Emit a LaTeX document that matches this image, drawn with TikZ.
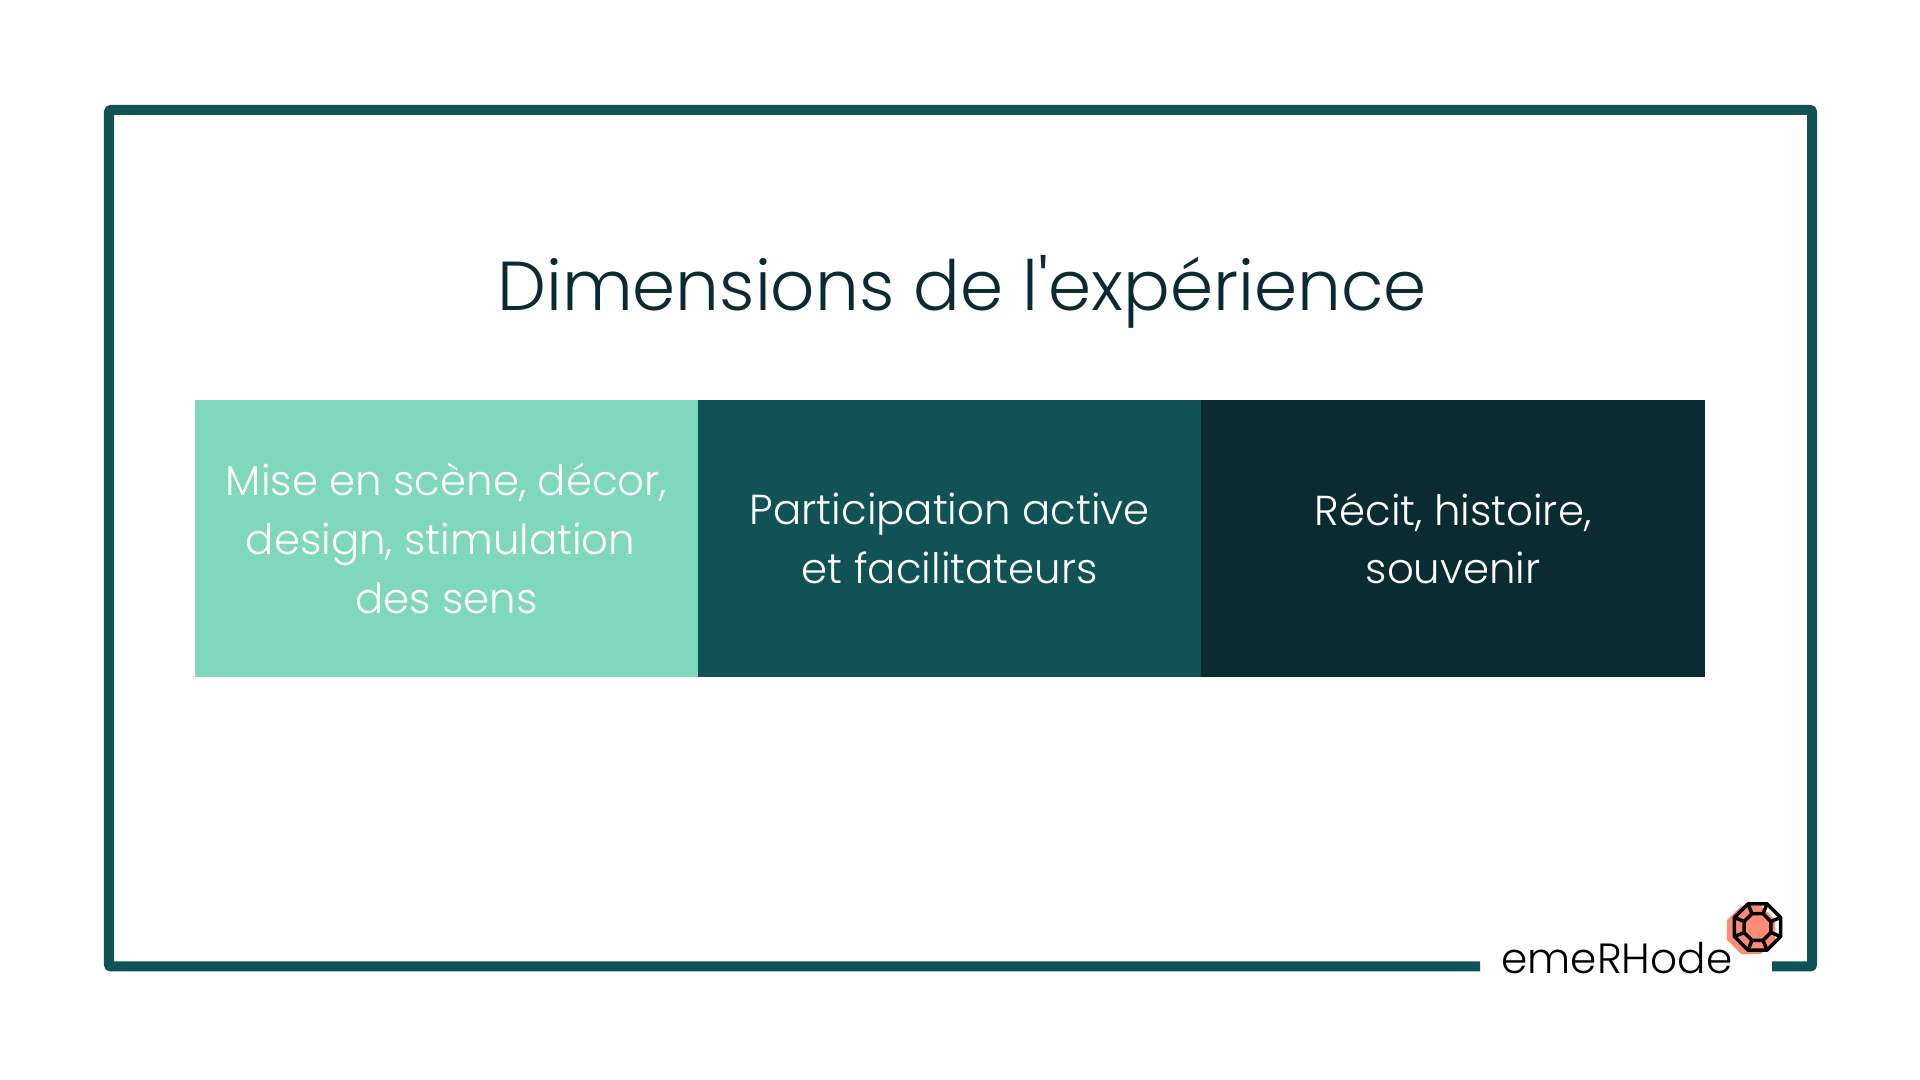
\documentclass[tikz,border=0pt]{standalone}
\usepackage{fontspec}
\setmainfont[Ligatures=TeXOff]{Poppins Light}
\usetikzlibrary{positioning, shapes.geometric}
\definecolor{tealframe}{HTML}{115256}
\definecolor{darkteal}{HTML}{0A2B32}
\definecolor{mint}{HTML}{80D8BC}
\definecolor{salmon}{HTML}{FF8C72}
\tikzset{
    dimbox/.style={rectangle, minimum width=5.03cm, minimum height=2.77cm, outer sep=0pt, text=white, align=center, font=\fontsize{11.9}{16.7}\selectfont},
    gembox/.style={regular polygon, regular polygon sides=8, minimum size=5mm, inner sep=0pt, outer sep=0pt},
    gemline/.style={draw=black, line width=0.35mm, line join=round},
}
\begin{document}
\begin{tikzpicture}[x=0.01cm, y=-0.01cm]
    \useasboundingbox (0,0) rectangle (1920,1080);
    \coordinate (frameleft) at (1480,966.5);
    \coordinate (frameright) at (1772,966.5);
    \draw[tealframe, line width=1mm, line join=round, rounded corners=0.1mm] (frameleft) -- (109,966.5) -- (109,110) -- (1812,110) -- (1812,966.5) -- (frameright);
    \node [text=darkteal, font=\fontsize{19.7}{24}\selectfont] (title) at (962,292) {Dimensions de l'expérience};
    \node [dimbox, fill=mint] (scene) at (446.5,538.5) {Mise en scène, décor,\\design, stimulation\rule{1.2mm}{0pt}\\des sens};
    \node [dimbox, fill=tealframe] (active) [right=0pt of scene] {Participation active\\et facilitateurs};
    \node [dimbox, fill=darkteal] (story) [right=0pt of active] {Récit, histoire,\\souvenir};
    \node [gembox, fill=salmon, minimum size=5.2mm] (gemback) at (1751,930) {};
    \node [gembox, gemline] (gemout) at (1757.5,927) {};
    \node [gembox, gemline, minimum size=2.9mm] (gemin) at (1757.5,927) {};
    \foreach \i in {1,...,8}
        \draw[gemline] (gemout.corner \i) -- (gemin.corner \i);
    \node [text=black, font=\fontsize{12}{14}\selectfont, anchor=base] (brand) at (1617,974) {emeRHode};
\end{tikzpicture}
\end{document}
